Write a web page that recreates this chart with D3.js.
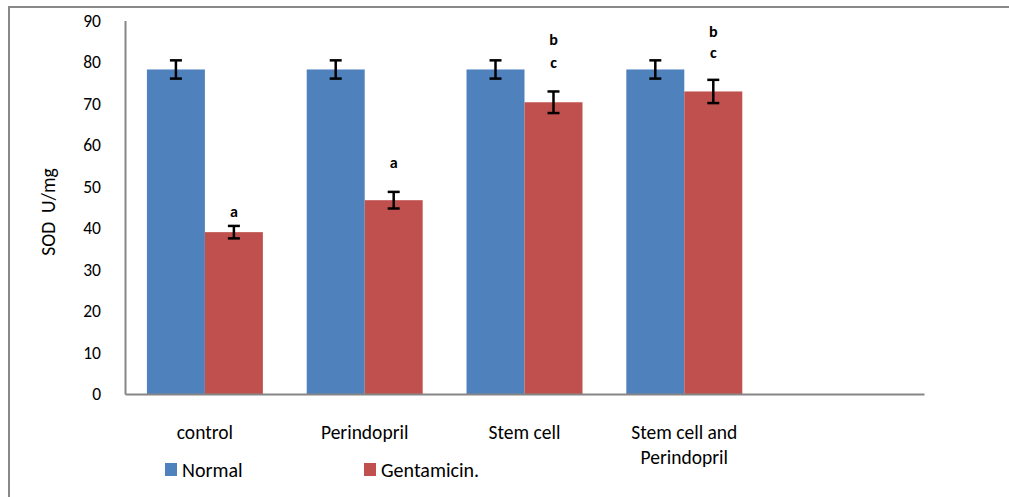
<!DOCTYPE html>
<html><head><meta charset="utf-8">
<script src="https://cdn.jsdelivr.net/npm/d3@7"></script>
<style>
html,body{margin:0;padding:0;background:#fff;}
text{font-family:Carlito, Calibri, Lato, "Open Sans", sans-serif;fill:#000;}
</style></head>
<body><svg id="c" width="1009" height="497"></svg>
<script>
const categories = ["control", "Perindopril", "Stem cell", "Stem cell and\nPerindopril", ""];
const seriesNames = ["Normal", "Gentamicin."];
const normalValues = [78.2, 78.2, 78.2, 78.2];
const normalErrors = [2.2, 2.2, 2.2, 2.2];
const gentValues = [39.0, 46.7, 70.3, 72.9];
const gentErrors = [1.5, 2.0, 2.6, 2.8];
const gentLetters = [["a"], ["a"], ["b", "c"], ["b", "c"]];
const letterValues = [[44.1], [55.8], [85.4, 80.0], [87.4, 82.3]];
const yTicks = [0, 10, 20, 30, 40, 50, 60, 70, 80, 90];
const colors = ["#4F81BD", "#C0504D"];

(function () {
const svg = d3.select("#c");
svg.append("rect").attr("x", 9).attr("y", 7).attr("width", 1010).attr("height", 510)
  .attr("fill", "none").attr("stroke", "#898989").attr("stroke-width", 2);

const mLeft = 125, mRight = 924, mTop = 20.5, mBottom = 394;
const x = d3.scaleBand().domain(d3.range(categories.length)).range([mLeft, mRight]).padding(0);
const y = d3.scaleLinear().domain([0, 90]).range([mBottom, mTop]);
const xs = d3.scaleBand().domain([0, 1]).range([0, x.bandwidth()]).paddingOuter(0.378).paddingInner(0);

const series = [
  {vals: normalValues, errs: normalErrors},
  {vals: gentValues, errs: gentErrors}
];

const g = svg.append("g");
series.forEach((s, si) => {
  s.vals.forEach((v, i) => {
    const x0 = x(i) + xs(si);
    g.append("rect").attr("x", x0).attr("y", y(v)).attr("width", xs.bandwidth())
      .attr("height", y(0) - y(v)).attr("fill", colors[si]);
  });
});
series.forEach((s, si) => {
  s.vals.forEach((v, i) => {
    const cx = x(i) + xs(si) + xs.bandwidth() / 2;
    const e = s.errs[i];
    const eg = g.append("g").attr("stroke", "#000").attr("stroke-width", 2.5);
    eg.append("line").attr("x1", cx).attr("x2", cx).attr("y1", y(v + e)).attr("y2", y(v - e));
    eg.append("line").attr("x1", cx - 6).attr("x2", cx + 6).attr("y1", y(v + e)).attr("y2", y(v + e));
    eg.append("line").attr("x1", cx - 6).attr("x2", cx + 6).attr("y1", y(v - e)).attr("y2", y(v - e));
  });
});
gentLetters.forEach((ls, i) => {
  const cx = x(i) + xs(1) + xs.bandwidth() / 2;
  ls.forEach((l, j) => {
    g.append("text").attr("x", cx).attr("y", y(letterValues[i][j])).attr("dy", "0.35em")
      .attr("text-anchor", "middle").attr("font-weight", "bold").attr("font-size", 16).text(l);
  });
});

const yAxis = d3.axisLeft(y).tickValues(yTicks).tickSize(0).tickPadding(24);
const ya = svg.append("g").attr("transform", `translate(${mLeft},0)`).call(yAxis);
ya.select(".domain").attr("stroke", "#868686").attr("stroke-width", 2);
ya.selectAll("text").attr("font-size", 17.5).attr("font-family", "Carlito, Calibri, Lato, 'Open Sans', sans-serif");

const xAxis = d3.axisBottom(x).tickSize(0).tickFormat(() => "");
const xa = svg.append("g").attr("transform", `translate(0,${mBottom})`).call(xAxis);
xa.select(".domain").attr("stroke", "#868686").attr("stroke-width", 2);

categories.forEach((c, i) => {
  const lines = c.split("\n");
  const t = svg.append("text").attr("x", x(i) + x.bandwidth() / 2).attr("y", 439)
    .attr("text-anchor", "middle").attr("font-size", 19.5);
  lines.forEach((ln, k) => t.append("tspan").attr("x", x(i) + x.bandwidth() / 2).attr("dy", k ? 25 : 0).text(ln));
});

svg.append("text").attr("transform", "translate(55,212) rotate(-90)")
  .attr("text-anchor", "middle").attr("font-size", 19.5).style("white-space", "pre").text("SOD  U/mg");

const legX = [165, 364];
seriesNames.forEach((n, i) => {
  svg.append("rect").attr("x", legX[i]).attr("y", 463).attr("width", 12).attr("height", 13).attr("fill", colors[i]);
  svg.append("text").attr("x", legX[i] + 17).attr("y", 477).attr("font-size", 20).text(n);
});
})();
</script></body></html>
